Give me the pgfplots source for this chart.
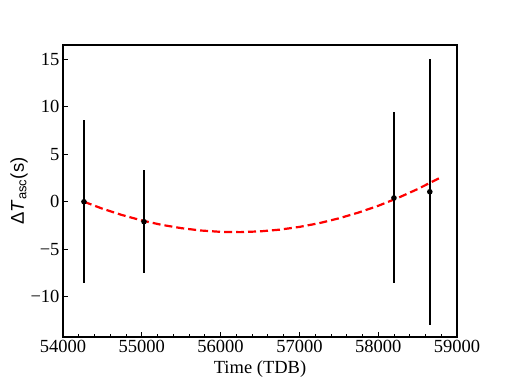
\documentclass[border=0pt]{standalone}
\usepackage{pgfplots}
\pgfplotsset{compat=1.18}
\usepackage{fontspec}
\setmainfont{Liberation Serif}
\newfontfamily\labelfont{Liberation Sans}

\begin{document}
\begin{tikzpicture}
\begin{axis}[
    at={(0,0)}, anchor=south west,
    scale only axis,
    width=394pt, height=292pt,
    xmin=54000, xmax=59000,
    ymin=-14.24, ymax=16.5,
    xtick={54000,55000,56000,57000,58000,59000},
    xticklabels={54000,55000,56000,57000,58000,59000},
    scaled x ticks=false,
    ytick={-10,-5,0,5,10,15},
    yticklabels={−10,−5,0,5,10,15},
    minor x tick num=4,
    tick align=inside,
    xtick pos=bottom, ytick pos=left,
    major tick length=5pt, minor tick length=3pt,
    tick style={black, line width=0.8pt},
    axis line style={line width=1.3pt},
    ticklabel style={font=\fontsize{18.5}{20}\selectfont},
    xlabel={Time (TDB)},
    xlabel style={font=\fontsize{18.5}{20}\selectfont, yshift=-1pt},
    ylabel={\labelfont Δ\textit{T}\textsubscript{asc}(s)},
    ylabel style={font=\fontsize{18.5}{20}\selectfont, yshift=-4pt},
    clip=false,
]
% fitted trend
\addplot[red, line width=2.2pt, dash pattern=on 8pt off 4pt] coordinates {
    (54266,0.00) (54500,-0.73) (54750,-1.40) (55000,-1.97) (55250,-2.43)
    (55500,-2.78) (55750,-3.03) (56000,-3.17) (56250,-3.20) (56500,-3.12)
    (56750,-2.94) (57000,-2.65) (57250,-2.26) (57500,-1.75) (57750,-1.14)
    (58000,-0.43) (58250,0.40) (58500,1.33) (58805,2.61)
};
% measurements
\addplot[black, only marks, mark=*, mark size=2pt, line width=1.5pt,
    error bars/.cd, y dir=both, y explicit, error mark=none,
    error bar style={line width=1.6pt}]
    coordinates {
    (54266,0.0) +- (0,8.6)
    (55028,-2.1) +- (0,5.4)
    (58200,0.4) +- (0,9.0)
    (58655,1.05) +- (0,14.0)
};
\end{axis}
\path[use as bounding box] (-63pt,-43pt) rectangle (444pt,337pt);
\end{tikzpicture}
\end{document}
